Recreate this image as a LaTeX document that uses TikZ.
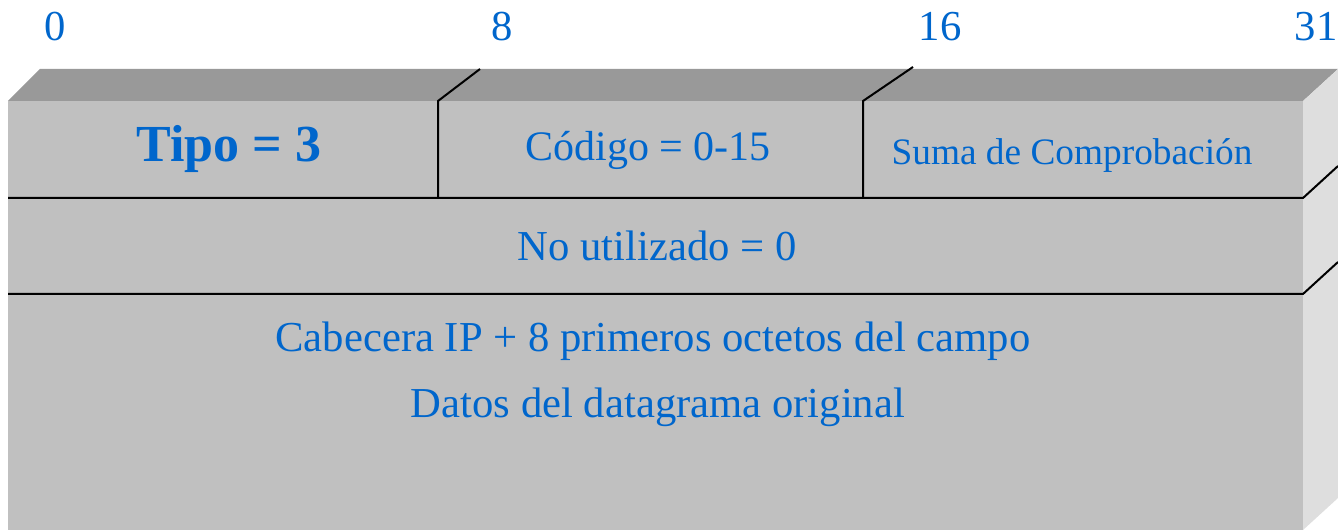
\documentclass[tikz,border=0pt]{standalone}
\usepackage{fontspec}
\setmainfont{Liberation Serif}
\usepackage{xcolor}
\definecolor{textblue}{RGB}{0,102,204}
\definecolor{frontgray}{RGB}{192,192,192}
\definecolor{topgray}{RGB}{153,153,153}
\definecolor{sidegray}{RGB}{222,222,222}
\usetikzlibrary{positioning, calc}

\begin{document}
\begin{tikzpicture}[x=0.75pt, y=-0.75pt,
    lbl/.style={text=textblue, inner sep=0pt},
    sep/.style={line width=1.5pt, black}]
    \useasboundingbox (0,0) rectangle (1338,530);

    % Box faces
    \fill[topgray] (8,101) -- (40,69) -- (1338,69) -- (1303,101) -- cycle;
    \fill[sidegray] (1303,101) -- (1338,69) -- (1338,498) -- (1303,530) -- cycle;
    \fill[frontgray] (8,101) rectangle (1303,530);

    % Bit positions
    \node[lbl, font=\fontsize{32}{36}\selectfont] (b0) at (55,27) {0};
    \node[lbl, font=\fontsize{32}{36}\selectfont] (b8) at (502,27) {8};
    \node[lbl, font=\fontsize{32}{36}\selectfont] (b16) at (940,27) {16};
    \node[lbl, font=\fontsize{32}{36}\selectfont] (b31) at (1316,27) {31};

    % Field dividers (front and top)
    \draw[sep] (438,198) -- (438,101) -- (480,69);
    \draw[sep] (863,198) -- (863,101) -- (913,67);

    % Row lines (front and side)
    \draw[sep] (8,198) -- (1303,198) -- (1338,166);
    \draw[sep] (8,294) -- (1303,294) -- (1338,262);

    % First row
    \node[lbl, font=\fontsize{39}{44}\selectfont\bfseries] (tipo) at (229,149) {Tipo = 3};
    \node[lbl, font=\fontsize{31.5}{36}\selectfont] (codigo) at (648,150) {Código = 0-15};
    \node[lbl, font=\fontsize{28}{32}\selectfont] (suma) at (1072,155) {Suma de Comprobación};

    % Second row
    \node[lbl, font=\fontsize{32}{36}\selectfont] (nouso) at (657,246) {No utilizado = 0};

    % Third row
    \node[lbl, font=\fontsize{32}{36}\selectfont] (cab) at (653,341) {Cabecera IP + 8 primeros octetos del campo};
    \node[lbl, font=\fontsize{32}{36}\selectfont] (datos) at (658,407) {Datos del datagrama original};

\end{tikzpicture}
\end{document}
